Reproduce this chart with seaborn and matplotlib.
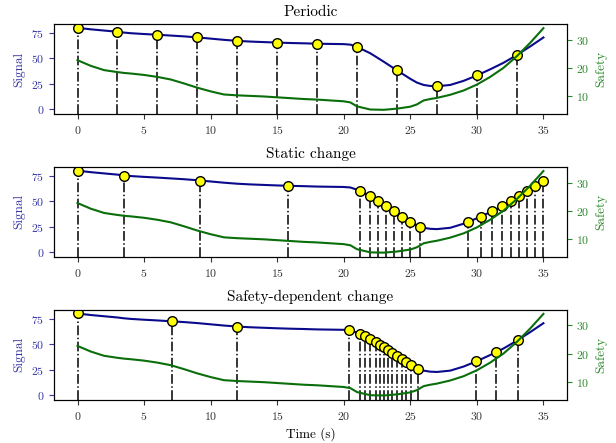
import matplotlib
matplotlib.use("Agg")
import matplotlib.pyplot as plt
import seaborn as sns
import pandas as pd

# continuous signals
time = [0, 1, 2, 3, 3.5, 4, 5, 6, 7, 8, 9, 10, 11, 12, 13, 14, 15, 16, 17, 18, 19, 20,
        20.5, 21, 22, 23, 24, 25, 25.5, 26, 26.5, 27, 28, 29, 30, 31, 32, 33, 34, 35]
signal = [80, 78.5, 77.3, 76.1, 75.3, 74.7, 73.9, 73.2, 72.4, 71.6, 70.6, 69.4, 68.2, 67.2,
          66.5, 66.0, 65.5, 65.1, 64.8, 64.4, 64.2, 64.0, 63.5, 61.3, 55.0, 46.8, 38.3, 30.0,
          26.3, 24.0, 23.0, 22.7, 24.0, 28.0, 33.3, 39.3, 45.7, 53.3, 61.7, 70.5]
safety = [22.8, 20.8, 19.3, 18.6, 18.3, 18.1, 17.6, 16.9, 16.0, 14.6, 13.1, 11.8, 10.7, 10.4,
          10.2, 10.0, 9.7, 9.4, 9.1, 8.9, 8.6, 8.3, 7.9, 6.5, 5.4, 5.3, 5.7, 6.4,
          7.2, 8.6, 9.1, 9.5, 10.6, 12.1, 14.2, 16.9, 20.1, 24.2, 28.9, 34.1]

# sampling instants per strategy
periodic_t = [0, 3, 6, 9, 12, 15, 18, 21, 24, 27, 30, 33]
periodic_v = [80, 76.1, 73.2, 70.6, 67.2, 65.5, 64.4, 61.3, 38.3, 22.7, 33.3, 53.3]

static_t = [0, 3.5, 9.2, 15.8, 21.2, 22.0, 22.6, 23.2, 23.8, 24.4, 25.0, 25.7,
            29.3, 30.3, 31.1, 31.9, 32.6, 33.2, 33.8, 34.4, 35.0]
static_v = [80, 75, 70, 65, 60, 55, 50, 45, 40, 35, 30, 25,
            30, 35, 40, 45, 50, 55, 60, 65, 70]

safedep_t = [0, 7.1, 12.0, 20.4, 21.2, 21.6, 22.0, 22.4, 22.7, 23.0, 23.3, 23.65,
             24.0, 24.35, 24.7, 25.07, 25.55, 29.9, 31.4, 33.1]
safedep_v = [80, 72.4, 67.2, 63.6, 60.0, 57.5, 55.0, 52.0, 49.3, 46.8, 44.0, 41.3,
             38.3, 35.5, 32.5, 29.5, 26.0, 33.0, 42.0, 54.0]

titles = ["Periodic", "Static change", "Safety-dependent change"]

BLUE = "#0a0a8c"
GREEN = "#0a6e0a"
BLUE_TXT = "#3535a5"
GREEN_TXT = "#2a882a"

plt.rcParams["font.family"] = "serif"
plt.rcParams["font.serif"] = ["cmr10", "DejaVu Serif"]
plt.rcParams["mathtext.fontset"] = "cm"
plt.rcParams["axes.formatter.use_mathtext"] = True

curve = pd.DataFrame({"time": time, "signal": signal, "safety": safety})
samples = [(periodic_t, periodic_v), (static_t, static_v), (safedep_t, safedep_v)]

fig, axes = plt.subplots(3, 1, figsize=(6.16, 4.43), dpi=100)
fig.subplots_adjust(left=0.088, right=0.92, top=0.946, bottom=0.097, hspace=0.58)

y_low, y_high = -4.8, 83.8

for ax, title, (st, sv) in zip(axes, titles, samples):
    ax.vlines(st, y_low, sv, colors="black", linestyles="-.", linewidth=1.1)
    sns.lineplot(data=curve, x="time", y="signal", ax=ax, color=BLUE, linewidth=1.5)
    sns.scatterplot(x=st, y=sv, ax=ax, color="yellow", edgecolor="black",
                    s=48, linewidth=1, zorder=5)
    ax.set_xlim(-1.75, 36.75)
    ax.set_ylim(y_low, y_high)
    ax.set_xticks(range(0, 36, 5))
    ax.set_yticks([0, 25, 50, 75])
    ax.set_title(title, fontsize=11)
    ax.set_ylabel("Signal", color=BLUE_TXT, fontsize=9.5)
    ax.set_xlabel("")
    ax.tick_params(axis="y", colors=BLUE_TXT, labelsize=8.5)
    ax.tick_params(axis="x", colors="#333333", labelsize=8.5)

    ax2 = ax.twinx()
    sns.lineplot(data=curve, x="time", y="safety", ax=ax2, color=GREEN, linewidth=1.5)
    ax2.set_ylim(3.7, 35.6)
    ax2.set_yticks([10, 20, 30])
    ax2.set_ylabel("Safety", color=GREEN_TXT, fontsize=9.5)
    ax2.tick_params(axis="y", colors=GREEN_TXT, labelsize=8.5)
    ax2.set_xlim(-1.75, 36.75)

axes[-1].set_xlabel("Time (s)", fontsize=9.5)

plt.savefig("out.png", dpi=100)
plt.close()
